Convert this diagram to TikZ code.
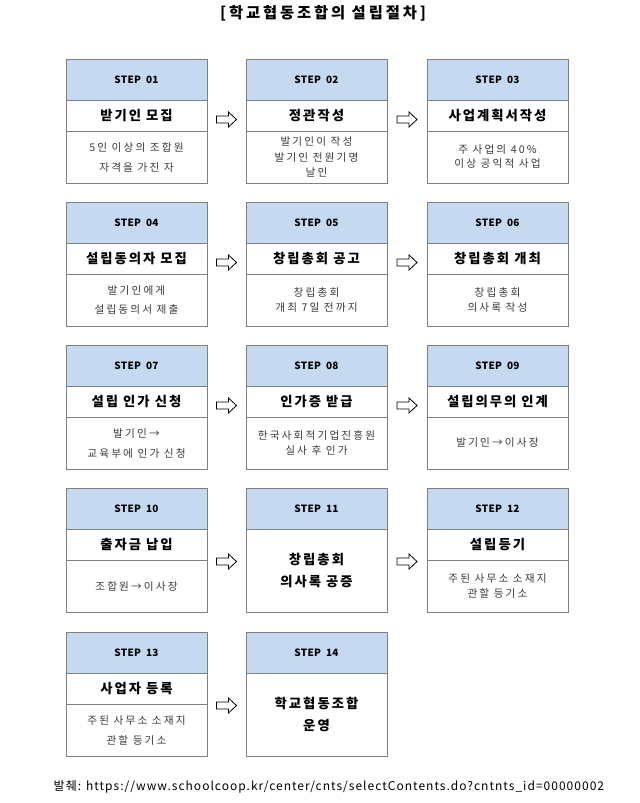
\documentclass[tikz,border=0pt]{standalone}
\usepackage{fontspec}
\usetikzlibrary{calc}
\setmainfont{Noto Sans CJK KR}
\newfontfamily\krsp[LetterSpace=15]{Noto Sans CJK KR}
\newfontfamily\krttl[LetterSpace=19]{Noto Sans CJK KR}
\newfontfamily\krstep[LetterSpace=3]{Noto Sans CJK KR}
\newfontfamily\krbody[LetterSpace=20]{Noto Sans CJK KR}
\newfontfamily\krsrc[LetterSpace=8.5]{Noto Sans CJK KR}
\definecolor{hdrblue}{HTML}{C5D9F1}
\definecolor{boxline}{HTML}{808080}
\definecolor{bodytext}{HTML}{3A3A3A}
\tikzset{
  cell/.style={draw=boxline, line width=0.75pt, inner sep=0pt, outer sep=0pt,
    minimum width=105.75pt, anchor=north west, align=center},
  hdr/.style={cell, fill=hdrblue, minimum height=30.75pt,
    font=\krstep\bfseries\fontsize{7.5}{9}\selectfont},
  ttlbox/.style={cell, fill=white, minimum height=23.25pt,
    font=\krsp\bfseries\fontsize{10}{12}\selectfont},
  bodybox/.style={cell, fill=white, minimum height=39pt, text=bodytext},
  mergedbox/.style={cell, fill=white, minimum height=62.25pt,
    font=\krsp\bfseries\fontsize{10}{16.5}\selectfont},
  blockarrow/.style={draw=black, fill=white, line width=0.6pt, line join=miter}
}
\newcommand\mkstep[7]{%
  \node[hdr] (h#1) at (#2,#3) {STEP\enspace #1};
  \node[ttlbox] (t#1) at (h#1.south west) {#4};
  \node[bodybox, font={\krbody\fontsize{8}{#6}\selectfont}] (b#1) at (t#1.south west) {#5};
}
\newcommand\mkmerged[5]{%
  \node[hdr] (h#1) at (#2,#3) {STEP\enspace #1};
  \node[mergedbox] (t#1) at (h#1.south west) {#4};
}
\newcommand\mkarrow[2]{%
  \coordinate (a#1#2) at ($(t#1.east)!0.5!(t#2.west)+(0,4)$);
  \draw[blockarrow] (a#1#2) +(-10,-3.5) -- +(2,-3.5) -- +(2,-7.5) -- +(10,0)
    -- +(2,7.5) -- +(2,3.5) -- +(-10,3.5) -- cycle;
}
\begin{document}
\begin{tikzpicture}[x=0.75pt,y=-0.75pt]
\useasboundingbox[fill=white] (0,0) rectangle (639,803);
\node[font=\krttl\bfseries\fontsize{11.5}{13}\selectfont] (title) at (323,13) {[학교협동조합의 설립절차]};
% row 1
\mkstep{01}{66}{59}{받기인 모집}{5인 이상의 조합원\\자격을 가진 자}{15}{}
\mkstep{02}{246}{59}{정관작성}{발기인이 작성\\발기인 전원기명\\날인}{11.6}{}
\mkstep{03}{427}{59}{사업계획서작성}{주 사업의 40\%\\이상 공익적 사업}{10.5}{}
% row 2
\mkstep{04}{66}{202}{설립동의자 모집}{발기인에게\\설립동의서 제출}{14.5}{}
\mkstep{05}{246}{202}{창립총회 공고}{창립총회\\개최 7일 전까지}{10.8}{}
\mkstep{06}{427}{202}{창립총회 개최}{창립총회\\의사록 작성}{11.2}{}
% row 3
\mkstep{07}{66}{345}{설립 인가 신청}{발기인→\\교육부에 인가 신청}{15}{}
\mkstep{08}{246}{345}{인가증 받급}{한국사회적기업진흥원\\실사 후 인가}{11.2}{}
\mkstep{09}{427}{345}{설립의무의 인계}{발기인→이사장}{11}{}
% row 4
\mkstep{10}{66}{488}{출자금 납입}{조합원→이사장}{11}{}
\mkmerged{11}{246}{488}{창립총회\\의사록 공증}{}
\mkstep{12}{427}{488}{설립등기}{주된 사무소 소재지\\관할 등기소}{11.2}{}
% row 5
\mkstep{13}{66}{632}{사업자 등록}{주된 사무소 소재지\\관할 등기소}{15}{}
\mkmerged{14}{246}{632}{학교협동조합\\운영}{}
% arrows
\mkarrow{01}{02}\mkarrow{02}{03}
\mkarrow{04}{05}\mkarrow{05}{06}
\mkarrow{07}{08}\mkarrow{08}{09}
\mkarrow{10}{11}\mkarrow{11}{12}
\mkarrow{13}{14}
\node[anchor=west, font=\krsrc\fontsize{9}{11}\selectfont] (src) at (49,787)
  {발췌: https://www.schoolcoop.kr/center/cnts/selectContents.do?cntnts\_id=00000002};
\end{tikzpicture}
\end{document}
